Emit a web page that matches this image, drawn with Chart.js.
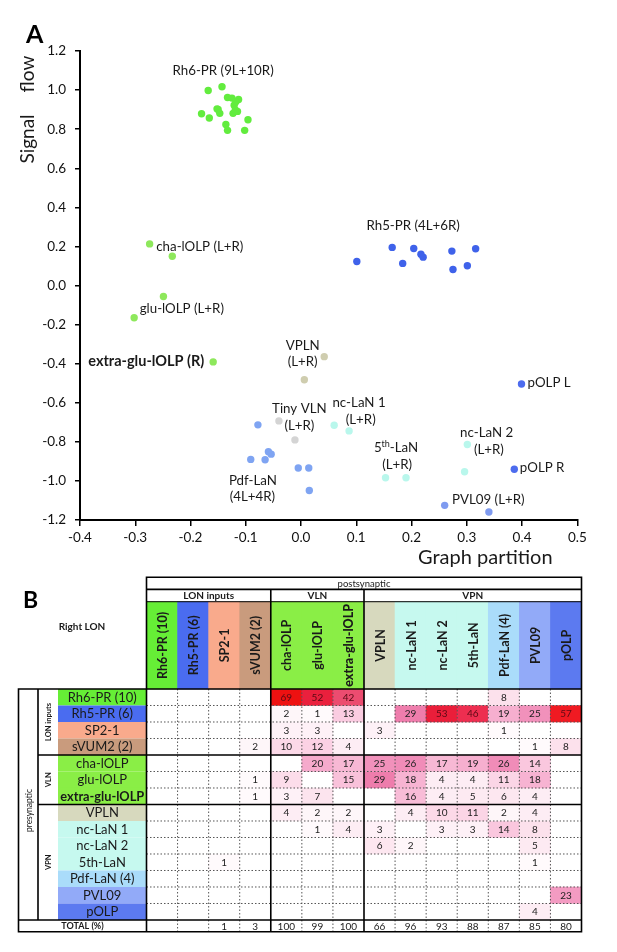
<!DOCTYPE html>
<html>
<head>
<meta charset="utf-8">
<script src="https://cdn.jsdelivr.net/npm/chart.js@4.4.1/dist/chart.umd.min.js"></script>
<style>
  html, body { margin: 0; padding: 0; background: #fff; }
  #page { position: relative; width: 617px; height: 952px; overflow: hidden; }
  canvas { position: absolute; left: 0; }
  #scatter { top: 0; }
  #table { top: 570px; }
</style>
</head>
<body>
<div id="page">
  <canvas id="scatter" width="617" height="575"></canvas>
  <canvas id="table" width="617" height="382"></canvas>
</div>
<script>
// ---------- panel A data: [graph partition, signal flow] ----------
const rh6PR = [[-0.168, 0.998], [-0.143, 1.017], [-0.133, 0.962], [-0.125, 0.959], [-0.113, 0.952],
  [-0.121, 0.923], [-0.152, 0.904], [-0.150, 0.901], [-0.147, 0.881], [-0.180, 0.879], [-0.166, 0.857],
  [-0.123, 0.881], [-0.115, 0.891], [-0.096, 0.848], [-0.136, 0.824], [-0.133, 0.794], [-0.102, 0.794],
  [-0.119, 0.898], [-0.118, 0.940]];
const rh5PR = [[0.101, 0.123], [0.165, 0.195], [0.184, 0.113], [0.204, 0.189], [0.217, 0.160],
  [0.221, 0.145], [0.273, 0.176], [0.275, 0.082], [0.301, 0.101], [0.316, 0.188]];
const chaLOLP = [[-0.274, 0.213], [-0.233, 0.150]];
const gluLOLP = [[-0.249, -0.056], [-0.302, -0.165]];
const extraGluLOLP = [[-0.159, -0.391]];
const vpln = [[0.042, -0.364], [0.006, -0.482]];
const tinyVLN = [[-0.040, -0.693], [-0.011, -0.790]];
const ncLaN1 = [[0.060, -0.715], [0.087, -0.744]];
const fifthLaN = [[0.153, -0.984], [0.190, -0.984]];
const ncLaN2 = [[0.301, -0.814], [0.296, -0.953]];
const pOLP = [[0.399, -0.504], [0.386, -0.940]];
const pvl09 = [[0.260, -1.125], [0.340, -1.159]];
const pdfLaN = [[-0.078, -0.713], [-0.059, -0.851], [-0.054, -0.863], [-0.091, -0.890],
  [-0.065, -0.892], [-0.005, -0.934], [0.014, -0.934], [0.015, -1.049]];

// ---------- panel B data: % of synapses, rows = presynaptic, cols = postsynaptic ----------
const neurons = ['Rh6-PR (10)', 'Rh5-PR (6)', 'SP2-1', 'sVUM2 (2)', 'cha-lOLP', 'glu-lOLP', 'extra-glu-lOLP',
  'VPLN', 'nc-LaN 1', 'nc-LaN 2', '5th-LaN', 'Pdf-LaN (4)', 'PVL09', 'pOLP'];
const groups = [['LON inputs', 0, 4], ['VLN', 4, 7], ['VPN', 7, 14]];
const _ = null;
const synapsePct = [
  [_, _, _, _, 69, 52, 42, _, _, _, _, 8, _, _],
  [_, _, _, _, 2, 1, 13, _, 29, 53, 46, 19, 25, 57],
  [_, _, _, _, 3, 3, _, 3, _, _, _, 1, _, _],
  [_, _, _, 2, 10, 12, 4, _, _, _, _, _, 1, 8],
  [_, _, _, _, _, 20, 17, 25, 26, 17, 19, 26, 14, _],
  [_, _, _, 1, 9, _, 15, 29, 18, 4, 4, 11, 18, _],
  [_, _, _, 1, 3, 7, _, _, 16, 4, 5, 6, 4, _],
  [_, _, _, _, 4, 2, 2, _, 4, 10, 11, 2, 4, _],
  [_, _, _, _, _, 1, 4, 3, _, 3, 3, 14, 8, _],
  [_, _, _, _, _, _, _, 6, 2, _, _, _, 5, _],
  [_, _, 1, _, _, _, _, _, _, _, _, _, 1, _],
  [_, _, _, _, _, _, _, _, _, _, _, _, _, _],
  [_, _, _, _, _, _, _, _, _, _, _, _, _, 23],
  [_, _, _, _, _, _, _, _, _, _, _, _, 4, _]
];
const totalPct = [_, _, 1, 3, 100, 99, 100, 66, 96, 93, 88, 87, 85, 80];

// ---------- styles ----------
const neuronColors = ['#66ee36', '#4a6cf0', '#f9aa8c', '#c99b7d', '#8aee46', '#8aee46', '#8aee46',
  '#d7d9be', '#c6f9ef', '#c6f9ef', '#c6f9ef', '#aadcfa', '#92aaf8', '#5c7af0'];

const scatterGroups = [
  [rh6PR, '#62ec3e'], [chaLOLP, '#8ee85c'], [gluLOLP, '#8ee85c'], [extraGluLOLP, '#8ee85c'],
  [rh5PR, '#3f62ea'], [pdfLaN, '#7fa4f2'], [tinyVLN, '#d4d4d4'], [vpln, '#cfcdaf'],
  [ncLaN1, '#b9f7ec'], [fifthLaN, '#b9f7ec'], [ncLaN2, '#b9f7ec'], [pOLP, '#4d6cee'], [pvl09, '#7f9bf0']
];

// label anchors in data units
const labelSpots = [
  { text: 'Rh6-PR (9L+10R)', x: -0.141, y: 1.097 },
  { text: 'Rh5-PR (4L+6R)', x: 0.203, y: 0.304 },
  { text: 'cha-lOLP (L+R)', x: -0.262, y: 0.201, align: 'left' },
  { text: 'glu-lOLP (L+R)', x: -0.292, y: -0.119, align: 'left' },
  { text: 'extra-glu-lOLP (R)', x: -0.175, y: -0.390, align: 'right', bold: true },
  { text: 'VPLN', x: 0.003, y: -0.306 }, { text: '(L+R)', x: 0.003, y: -0.390 },
  { text: 'Tiny VLN', x: -0.003, y: -0.631 }, { text: '(L+R)', x: -0.003, y: -0.717 },
  { text: 'nc-LaN 1', x: 0.105, y: -0.601 }, { text: '(L+R)', x: 0.108, y: -0.686 },
  { text: '5|th|-LaN', x: 0.172, y: -0.832, sup: true }, { text: '(L+R)', x: 0.174, y: -0.916 },
  { text: 'nc-LaN 2', x: 0.336, y: -0.752 }, { text: '(L+R)', x: 0.340, y: -0.838 },
  { text: 'Pdf-LaN', x: -0.087, y: -1.000 }, { text: '(4L+4R)', x: -0.088, y: -1.079 },
  { text: 'PVL09 (L+R)', x: 0.339, y: -1.095 },
  { text: 'pOLP L', x: 0.410, y: -0.499, align: 'left' },
  { text: 'pOLP R', x: 0.396, y: -0.933, align: 'left' }
];

const FONT = 'Lato';
const fmt1 = v => (Math.abs(v) < 1e-9 ? 0 : v).toFixed(1);

// heat colour for a percentage
const heatStops = [[0, [255, 255, 255]], [1, [255, 250, 252]], [4, [253, 237, 244]], [8, [252, 225, 236]],
  [12, [251, 209, 228]], [16, [248, 188, 215]], [20, [245, 170, 204]], [26, [240, 140, 184]],
  [30, [237, 120, 168]], [42, [236, 76, 112]], [46, [237, 46, 80]], [53, [234, 30, 58]],
  [57, [240, 26, 34]], [70, [238, 16, 16]]];
function cellColor(v) {
  if (v == null) return 'rgba(0,0,0,0)';
  for (let i = 1; i < heatStops.length; i++) {
    const [v1, c1] = heatStops[i], [v0, c0] = heatStops[i - 1];
    if (v <= v1) {
      const t = (v - v0) / (v1 - v0);
      const c = c0.map((k, j) => Math.round(k + (c1[j] - k) * t));
      return `rgb(${c[0]},${c[1]},${c[2]})`;
    }
  }
  return 'rgb(238,16,16)';
}

// ---------- panel A ----------
const scatterText = {
  id: 'scatterText',
  afterDatasetsDraw(chart) {
    const { ctx, scales: { x, y } } = chart;
    ctx.save();
    ctx.fillStyle = '#1a1a1a';
    ctx.textBaseline = 'middle';
    labelSpots.forEach(l => {
      const px = x.getPixelForValue(l.x), py = y.getPixelForValue(l.y);
      ctx.font = (l.bold ? 'bold 14.5px ' : '13.3px ') + FONT;
      if (l.sup) {
        const [a, s, b] = l.text.split('|');
        const wa = ctx.measureText(a).width, wb = ctx.measureText(b).width;
        ctx.font = '9px ' + FONT;
        const ws = ctx.measureText(s).width;
        let left = px - (wa + ws + wb) / 2;
        ctx.textAlign = 'left';
        ctx.fillText(s, left + wa, py - 4);
        ctx.font = '13.3px ' + FONT;
        ctx.fillText(a, left, py);
        ctx.fillText(b, left + wa + ws, py);
        return;
      }
      ctx.textAlign = l.align || 'center';
      ctx.fillText(l.text, px, py);
    });
    // axis titles and panel letter
    ctx.font = '19px ' + FONT;
    ctx.textAlign = 'center';
    ctx.save();
    ctx.translate(28, 139);
    ctx.rotate(-Math.PI / 2);
    ctx.fillText('Signal', 0, 0);
    ctx.restore();
    ctx.save();
    ctx.translate(28, 74);
    ctx.rotate(-Math.PI / 2);
    ctx.fillText('flow', 0, 0);
    ctx.restore();
    ctx.font = '20px ' + FONT;
    ctx.textAlign = 'left';
    ctx.fillText('Graph partition', 418, 558);
    ctx.font = 'bold 25px ' + FONT;
    ctx.textBaseline = 'alphabetic';
    ctx.fillStyle = '#000';
    ctx.fillText('A', 26, 43);
    ctx.restore();
  }
};

function buildScatter() {
  new Chart(document.getElementById('scatter'), {
    type: 'scatter',
    data: {
      datasets: scatterGroups.map(([pts, color]) => ({
        data: pts.map(([x, y]) => ({ x, y })),
        backgroundColor: color,
        borderWidth: 0,
        pointRadius: 3.7,
        pointHoverRadius: 3.7
      }))
    },
    options: {
      responsive: false,
      animation: false,
      layout: { padding: { left: 0, top: 51, right: 39.7, bottom: 0 } },
      plugins: { legend: { display: false }, tooltip: { enabled: false } },
      scales: {
        x: {
          type: 'linear', min: -0.4, max: 0.5,
          afterFit: s => { s.height = 55; },
          ticks: { stepSize: 0.1, padding: 4, color: '#111', font: { family: FONT, size: 13.5 }, callback: fmt1 },
          grid: { drawOnChartArea: false, drawTicks: true, tickLength: 6, color: '#000', lineWidth: 1.5 },
          border: { display: true, color: '#000', width: 2 }
        },
        y: {
          type: 'linear', min: -1.2, max: 1.2,
          afterFit: s => { s.width = 80; },
          ticks: { stepSize: 0.2, padding: 9, color: '#111', font: { family: FONT, size: 13.5 }, callback: fmt1 },
          grid: { drawOnChartArea: false, drawTicks: true, tickLength: 5, color: '#000', lineWidth: 1.5 },
          border: { display: true, color: '#000', width: 2 }
        }
      }
    },
    plugins: [scatterText]
  });
}

// ---------- panel B ----------
const band = { postTop: -6.77, groupTop: -6.04, colTop: -5.29, totalEnd: 14.71 };
const leftEdges = { outer: 18.5, pre: 38, grp: 58 };

const tableFrame = {
  id: 'tableFrame',
  afterDatasetsDraw(chart) {
    const { ctx, chartArea: a, scales: { y } } = chart;
    const n = neurons.length;
    const cw = (a.right - a.left) / n;
    const cx = i => a.left + i * cw;
    const ry = v => y.getPixelForValue(v);
    const cuts = groups.slice(1).map(g => g[1]);
    const L = leftEdges;
    ctx.save();

    // row label boxes
    neurons.forEach((name, r) => {
      ctx.fillStyle = neuronColors[r];
      ctx.fillRect(L.grp, ry(r), a.left - L.grp, ry(r + 1) - ry(r));
    });

    // dotted grid
    ctx.strokeStyle = '#555';
    ctx.lineWidth = 1;
    ctx.setLineDash([1.5, 2]);
    ctx.beginPath();
    for (let r = 1; r < n; r++) {
      if (cuts.includes(r)) continue;
      ctx.moveTo(a.left, ry(r)); ctx.lineTo(a.right, ry(r));
    }
    for (let c = 1; c < n; c++) {
      if (cuts.includes(c)) continue;
      ctx.moveTo(cx(c), ry(0)); ctx.lineTo(cx(c), a.bottom);
    }
    ctx.stroke();
    ctx.setLineDash([]);

    // solid frame
    ctx.strokeStyle = '#000';
    ctx.lineWidth = 1.6;
    ctx.beginPath();
    ctx.rect(a.left, a.top, a.right - a.left, a.bottom - a.top);
    ctx.rect(L.outer, ry(0), a.left - L.outer, a.bottom - ry(0));
    ctx.moveTo(a.left, ry(band.groupTop)); ctx.lineTo(a.right, ry(band.groupTop));
    cuts.forEach(c => { ctx.moveTo(cx(c), ry(band.groupTop)); ctx.lineTo(cx(c), a.bottom); });
    ctx.moveTo(L.outer, ry(0)); ctx.lineTo(a.right, ry(0));
    cuts.forEach(r => { ctx.moveTo(L.pre, ry(r)); ctx.lineTo(a.right, ry(r)); });
    ctx.moveTo(L.outer, ry(n)); ctx.lineTo(a.right, ry(n));
    ctx.moveTo(L.pre, ry(0)); ctx.lineTo(L.pre, ry(n));
    ctx.stroke();
    ctx.lineWidth = 1;
    ctx.beginPath();
    ctx.moveTo(a.left, ry(band.colTop)); ctx.lineTo(a.right, ry(band.colTop));
    ctx.stroke();

    ctx.textAlign = 'center';
    ctx.textBaseline = 'middle';
    ctx.fillStyle = '#1a1a1a';

    // header texts
    ctx.font = '9.5px ' + FONT;
    ctx.fillText('postsynaptic', (a.left + a.right) / 2, (ry(band.postTop) + ry(band.groupTop)) / 2 + 0.5);
    ctx.font = 'bold 10px ' + FONT;
    groups.forEach(([g, s, e]) => {
      ctx.fillText(g, (cx(s) + cx(e)) / 2, (ry(band.groupTop) + ry(band.colTop)) / 2 + 0.5);
    });
    const hy = (ry(band.colTop) + ry(0)) / 2;
    neurons.forEach((name, c) => {
      ctx.save();
      ctx.translate(cx(c) + cw / 2 + 1, hy);
      ctx.rotate(-Math.PI / 2);
      ctx.font = (c === 6 ? '900 12.5px ' : 'bold 12.5px ') + FONT;
      ctx.fillText(name, 0, 0);
      ctx.restore();
    });
    ctx.font = 'bold 10px ' + FONT;
    ctx.fillText('Right LON', 82, ry(-3.76));

    // left labels
    neurons.forEach((name, r) => {
      ctx.font = (r === 6 ? 'bold 12.8px ' : '13px ') + FONT;
      ctx.fillText(name, (L.grp + a.left) / 2, (ry(r) + ry(r + 1)) / 2 + 0.5);
    });
    groups.forEach(([g, s, e]) => {
      ctx.save();
      ctx.translate((L.pre + L.grp) / 2 + 1, (ry(s) + ry(e)) / 2);
      ctx.rotate(-Math.PI / 2);
      ctx.font = 'bold 7.5px ' + FONT;
      ctx.fillText(g, 0, 0);
      ctx.restore();
    });
    ctx.save();
    ctx.translate((L.outer + L.pre) / 2 + 1, (ry(0) + ry(n)) / 2 + 6);
    ctx.rotate(-Math.PI / 2);
    ctx.font = '8.5px ' + FONT;
    ctx.fillText('presynaptic', 0, 0);
    ctx.restore();
    ctx.font = 'bold 9px ' + FONT;
    ctx.fillText('TOTAL (%)', (L.outer + a.left) / 2, (ry(n) + ry(band.totalEnd)) / 2 + 0.5);

    // cell values
    ctx.font = '10px ' + FONT;
    synapsePct.forEach((row, r) => {
      row.forEach((v, c) => {
        if (v == null) return;
        ctx.fillStyle = v >= 40 ? '#5a0a14' : '#222';
        ctx.fillText(String(v), cx(c) + cw / 2, (ry(r) + ry(r + 1)) / 2 + 0.5);
      });
    });
    ctx.fillStyle = '#222';
    totalPct.forEach((v, c) => {
      if (v == null) return;
      ctx.fillText(String(v), cx(c) + cw / 2, (ry(n) + ry(band.totalEnd)) / 2 + 0.5);
    });

    // panel letter
    ctx.fillStyle = '#000';
    ctx.font = 'bold 23px ' + FONT;
    ctx.textAlign = 'left';
    ctx.textBaseline = 'alphabetic';
    ctx.fillText('B', 23, 38);
    ctx.restore();
  }
};

function buildTable() {
  const headerSet = {
    data: neurons.map(() => [band.colTop, 0]),
    backgroundColor: neuronColors
  };
  const rowSets = synapsePct.map((row, r) => ({
    data: row.map(v => (v == null ? null : [r, r + 1])),
    backgroundColor: row.map(cellColor)
  }));
  new Chart(document.getElementById('table'), {
    type: 'bar',
    data: { labels: neurons, datasets: [headerSet, ...rowSets] },
    options: {
      responsive: false,
      animation: false,
      layout: { padding: { left: 146.5, right: 35.5, top: 7.3, bottom: 20.3 } },
      datasets: { bar: { grouped: false, barPercentage: 1, categoryPercentage: 1, borderWidth: 0 } },
      plugins: { legend: { display: false }, tooltip: { enabled: false } },
      scales: {
        x: { type: 'category', display: false, offset: true },
        y: { type: 'linear', display: false, reverse: true, min: band.postTop, max: band.totalEnd }
      }
    },
    plugins: [tableFrame]
  });
}

function build() { buildScatter(); buildTable(); }
Promise.all(['12px Lato', 'bold 12px Lato', '900 12px Lato'].map(f => document.fonts.load(f)))
  .then(build, build);
</script>
</body>
</html>
